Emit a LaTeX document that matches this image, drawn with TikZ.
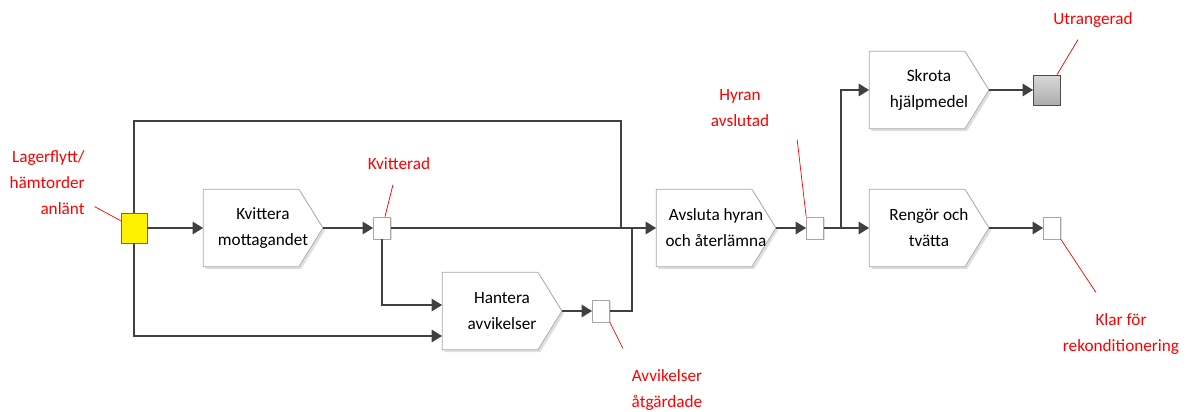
\documentclass[tikz,border=0pt]{standalone}
\usepackage{fontspec}
\setmainfont{Carlito}
\usetikzlibrary{shadows,arrows.meta}
\pgfdeclarelayer{background}
\pgfsetlayers{background,main}

\tikzset{
    proc/.style={minimum width=2.38cm, minimum height=1.54cm, inner sep=0pt, align=center,
        font=\fontsize{9.8}{14.8}\selectfont},
    procline/.style={draw=gray!70, fill=white,
        drop shadow={shadow xshift=1.3pt, shadow yshift=-1.3pt, fill=gray!25, opacity=1}},
    ev/.style={draw=gray!70, fill=white, minimum width=0.34cm, minimum height=0.44cm, inner sep=0pt,
        drop shadow={shadow xshift=0.8pt, shadow yshift=-0.8pt, fill=gray!25, opacity=1}},
    flow/.style={draw=black!75, line width=1.2pt},
    arr/.style={flow, -{Triangle[length=6pt,width=7pt]}},
    lbl/.style={text=red, align=center, inner sep=0pt, font=\fontsize{9.8}{14.8}\selectfont},
    pin/.style={draw=red, line width=0.4pt}
}
\newcommand\pentagon[1]{%
    \begin{pgfonlayer}{background}
        \draw[procline] (#1.north west) -- ([xshift=-0.48cm]#1.north east) -- (#1.east)
            -- ([xshift=-0.48cm]#1.south east) -- (#1.south west) -- cycle;
    \end{pgfonlayer}}

\begin{document}
\begin{tikzpicture}[x=0.02cm, y=-0.02cm]
    \useasboundingbox (0,0) rectangle (1196,412);

    \node[draw=black!60, fill=yellow, minimum width=0.52cm, minimum height=0.6cm, inner sep=0pt] (start) at (134,228) {};
    \node[proc] (kvitt) at (263,228) {Kvittera\\mottagandet};
    \node[ev] (kvitterad) at (382,228) {};
    \node[proc] (hant) at (502,311) {Hantera\\avvikelser};
    \node[ev] (avvik) at (601,311) {};
    \node[proc] (avsl) at (716,228) {Avsluta hyran\\och återlämna};
    \node[ev] (hyran) at (815,228) {};
    \node[proc] (skrota) at (929,90) {Skrota\\hjälpmedel};
    \node[proc] (rengor) at (929,228) {Rengör och\\tvätta};
    \node[draw=gray!60!black, top color=gray!30, bottom color=gray!65, minimum width=0.54cm, minimum height=0.6cm, inner sep=0pt] (utr) at (1047,90) {};
    \node[ev] (klar) at (1052,228) {};
    \foreach \n in {kvitt,hant,avsl,skrota,rengor}
        \pentagon{\n};

    \coordinate (jtop) at (621,121);
    \coordinate (j1) at (621,228);
    \coordinate (j2) at (632,228);
    \coordinate (j3) at (841,228);

    \draw[arr] (start) -- (kvitt);
    \draw[arr] (kvitt) -- (kvitterad);
    \draw[arr] (kvitterad) -- (avsl);
    \draw[flow] (start.north) |- (jtop) -- (j1);
    \draw[arr] (start.south) |- ([yshift=-0.5cm]hant.west);
    \draw[arr] (kvitterad.south) |- ([yshift=0.12cm]hant.west);
    \draw[arr] (hant) -- (avvik);
    \draw[flow] (avvik.east) -| (j2);
    \draw[arr] (avsl) -- (hyran);
    \draw[arr] (hyran) -- (rengor);
    \draw[arr] (j3) |- (skrota);
    \draw[arr] (skrota) -- (utr);
    \draw[arr] (rengor) -- (klar);

    \node[lbl, align=right, anchor=east] (lstart) at (85,183) {Lagerflytt/\\hämtorder\\anlänt};
    \node[lbl] (lkvit) at (399,164) {Kvitterad};
    \node[lbl] (lavvik) at (667,390) {Avvikelser\\åtgärdade};
    \node[lbl] (lhyran) at (740,108) {Hyran\\avslutad};
    \node[lbl] (lutr) at (1093,20) {Utrangerad};
    \node[lbl] (lklar) at (1121,334) {Klar för\\rekonditionering};

    \draw[pin] ([yshift=-0.16cm]start.north west) -- ++(-26,-14);
    \draw[pin] ([xshift=0.06cm]kvitterad.north) -- ++(8,-32);
    \draw[pin] (avvik.south east) -- ++(13,26);
    \draw[pin] (hyran.north west) -- ++(-9,-77);
    \draw[pin] ([xshift=0.2cm]utr.north) -- ++(21,-35);
    \draw[pin] (klar.south east) -- ++(35,53);
\end{tikzpicture}
\end{document}
